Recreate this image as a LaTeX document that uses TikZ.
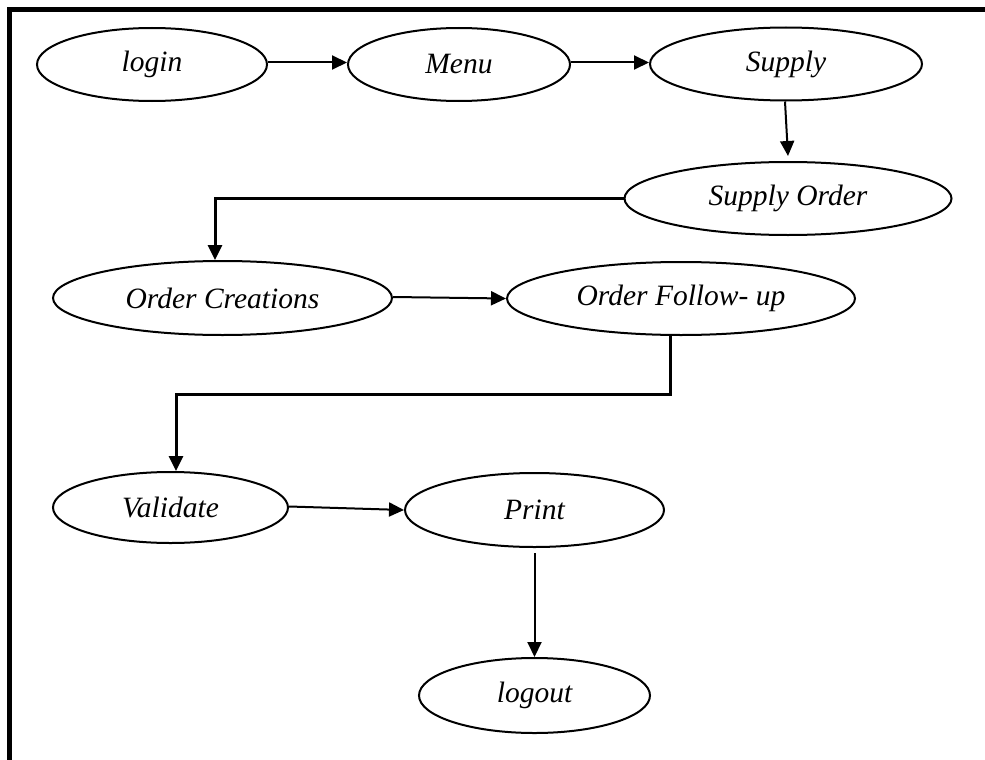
\documentclass[tikz,border=0pt]{standalone}
\usepackage{fontspec}
\setmainfont{Liberation Serif}
\usetikzlibrary{shapes.geometric,arrows.meta}
\begin{document}
\begin{tikzpicture}[x=1pt,y=-1pt,
  oval/.style={ellipse,draw,line width=2pt,inner sep=0pt,
    font=\itshape\fontsize{29.5}{34}\selectfont},
  arr/.style={line width=2pt,-{Triangle[length=15pt,width=14pt]}},
  elbow/.style={line width=3pt,-{Triangle[length=15pt,width=14pt]}}]
\useasboundingbox (0,0) rectangle (985,760);
\draw[line width=4.5pt,line join=miter] (985,9.5) -- (9.5,9.5) -- (9.5,760);

\node[oval,minimum width=230pt,minimum height=73pt] (login) at (152,64.5) {login};
\node[oval,minimum width=222pt,minimum height=73pt] (menu) at (459,64.5) {Menu};
\node[oval,minimum width=272pt,minimum height=73pt] (supply) at (786,64) {Supply};
\node[oval,minimum width=327pt,minimum height=73pt] (sorder) at (788,198.5) {Supply Order};
\node[oval,minimum width=339pt,minimum height=74pt] (ocreate) at (222.5,298) {Order Creations};
\node[oval,minimum width=348pt,minimum height=73pt] (ofollow) at (681,298.5) {Order Follow- up};
\node[oval,minimum width=235pt,minimum height=71pt] (validate) at (170.5,507.5) {Validate};
\node[oval,minimum width=259pt,minimum height=74pt] (print) at (534.5,510) {Print};
\node[oval,minimum width=231pt,minimum height=75pt] (logout) at (534.5,695.5) {logout};

\coordinate (bend) at (670,394);

\draw[arr] ([yshift=2pt]login.east) -- ([yshift=2pt]menu.west);
\draw[arr] ([yshift=2pt]menu.east) -- ([yshift=1.5pt]supply.west);
\draw[arr] ([xshift=-1pt]supply.south) -- ([yshift=5pt]sorder.north);
\draw[elbow] (sorder.west) -| ([xshift=-7.5pt]ocreate.north);
\draw[arr] ([yshift=1pt]ocreate.east) -- (ofollow.west);
\draw[elbow] ([xshift=-11pt]ofollow.south) -- (bend) -| ([xshift=5.5pt]validate.north);
\draw[arr] ([yshift=1pt]validate.east) -- (print.west);
\draw[arr,shorten <=5pt] (print.south) -- (logout.north);
\end{tikzpicture}
\end{document}
